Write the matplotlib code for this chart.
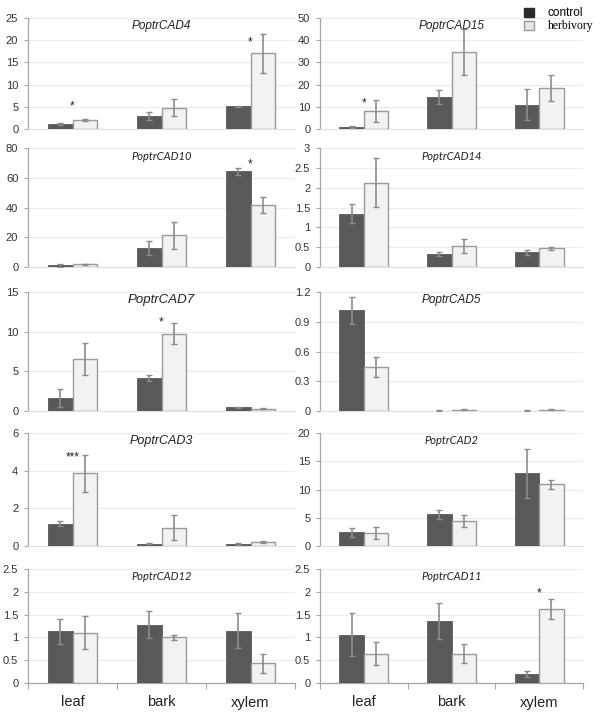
import numpy as np
import matplotlib
matplotlib.use("Agg")
import matplotlib.pyplot as plt
from matplotlib.patches import Patch

plt.rcParams['font.family'] = ['Liberation Sans', 'DejaVu Sans']

tissues = ['leaf', 'bark', 'xylem']

# panel order: row by row, left then right
genes = ['PoptrCAD4', 'PoptrCAD15', 'PoptrCAD10', 'PoptrCAD14', 'PoptrCAD7',
         'PoptrCAD5', 'PoptrCAD3', 'PoptrCAD2', 'PoptrCAD12', 'PoptrCAD11']

cad4_ctrl = [1.15, 3.0, 5.1]
cad4_ctrl_err = [0.2, 0.9, 0.1]
cad4_herb = [2.1, 4.75, 17.1]
cad4_herb_err = [0.2, 1.9, 4.4]

cad15_ctrl = [1.05, 14.3, 11.0]
cad15_ctrl_err = [0.5, 3.2, 7.0]
cad15_herb = [8.0, 34.8, 18.5]
cad15_herb_err = [5.0, 10.3, 6.0]

cad10_ctrl = [1.3, 12.8, 64.3]
cad10_ctrl_err = [1.0, 4.9, 2.3]
cad10_herb = [1.8, 21.3, 41.5]
cad10_herb_err = [0.3, 9.0, 5.5]

cad14_ctrl = [1.34, 0.33, 0.37]
cad14_ctrl_err = [0.24, 0.05, 0.06]
cad14_herb = [2.13, 0.53, 0.47]
cad14_herb_err = [0.62, 0.17, 0.03]

cad7_ctrl = [1.64, 4.16, 0.46]
cad7_ctrl_err = [1.1, 0.38, 0.1]
cad7_herb = [6.6, 9.75, 0.3]
cad7_herb_err = [2.03, 1.35, 0.05]

cad5_ctrl = [1.017, 0.005, 0.005]
cad5_ctrl_err = [0.137, 0.003, 0.003]
cad5_herb = [0.44, 0.015, 0.012]
cad5_herb_err = [0.1, 0.005, 0.005]

cad3_ctrl = [1.19, 0.12, 0.1]
cad3_ctrl_err = [0.12, 0.04, 0.04]
cad3_herb = [3.85, 0.98, 0.21]
cad3_herb_err = [0.97, 0.66, 0.07]

cad2_ctrl = [2.39, 5.6, 12.84]
cad2_ctrl_err = [0.8, 0.83, 4.3]
cad2_herb = [2.33, 4.42, 10.93]
cad2_herb_err = [1.05, 1.13, 0.8]

cad12_ctrl = [1.13, 1.28, 1.15]
cad12_ctrl_err = [0.28, 0.3, 0.38]
cad12_herb = [1.1, 1.0, 0.43]
cad12_herb_err = [0.36, 0.05, 0.2]

cad11_ctrl = [1.06, 1.36, 0.2]
cad11_ctrl_err = [0.47, 0.39, 0.07]
cad11_herb = [0.645, 0.645, 1.63]
cad11_herb_err = [0.245, 0.2, 0.22]

ctrl = [cad4_ctrl, cad15_ctrl, cad10_ctrl, cad14_ctrl, cad7_ctrl,
        cad5_ctrl, cad3_ctrl, cad2_ctrl, cad12_ctrl, cad11_ctrl]
ctrl_err = [cad4_ctrl_err, cad15_ctrl_err, cad10_ctrl_err, cad14_ctrl_err, cad7_ctrl_err,
            cad5_ctrl_err, cad3_ctrl_err, cad2_ctrl_err, cad12_ctrl_err, cad11_ctrl_err]
herb = [cad4_herb, cad15_herb, cad10_herb, cad14_herb, cad7_herb,
        cad5_herb, cad3_herb, cad2_herb, cad12_herb, cad11_herb]
herb_err = [cad4_herb_err, cad15_herb_err, cad10_herb_err, cad14_herb_err, cad7_herb_err,
            cad5_herb_err, cad3_herb_err, cad2_herb_err, cad12_herb_err, cad11_herb_err]

ymax = [25, 50, 80, 3, 15, 1.2, 6, 20, 2.5, 2.5]
ystep = [5, 10, 20, 0.5, 5, 0.3, 2, 5, 0.5, 0.5]
ylabels = [None, None, None, ['0', '0.5', '1', '1.5', '2', '2.5', '3'], None,
           ['0', '0.3', '0.6', '0.9', '1.2'], None, None,
           ['0', '0.5', '1', '1.5', '2', '2.5'], ['0', '0.5', '1', '1.5', '2', '2.5']]

# significance marks: (tissue index, height, text)
stars = [[(0, 5.1, '*'), (2, 19.5, '*')],
         [(0, 11.3, '*')],
         [(2, 68.8, '*')],
         [],
         [(1, 11.2, '*')],
         [],
         [(0, 4.72, '***')],
         [],
         [],
         [(2, 1.97, '*')]]

# title font: some panels use a Calibri-like face
title_font = ['Liberation Sans', 'Liberation Sans', 'Lato', 'Lato', 'Liberation Sans',
              'Liberation Sans', 'Liberation Sans', 'Lato', 'Lato', 'Lato']
title_size = [8.5, 8.5, 8, 8, 9.5, 8.5, 9, 8, 8, 8]

dark = '#595959'
light = '#f2f2f2'
edge = '#9a9a9a'
errc = '#8c8c8c'
axc = '#a6a6a6'

fig = plt.figure(figsize=(6, 7.2), dpi=100)

rows_top = [18, 148, 292, 433, 569]
rows_bot = [129, 267, 411, 546, 683]
cols = [(28, 295), (320, 583)]

bw = 0.28
x = np.arange(3)

for i, g in enumerate(genes):
    r, c = divmod(i, 2)
    x0, x1 = cols[c]
    ax = fig.add_axes([x0 / 600, 1 - rows_bot[r] / 720, (x1 - x0) / 600,
                       (rows_bot[r] - rows_top[r]) / 720])
    ekw = dict(ecolor=errc, elinewidth=1.2, capsize=2.5, capthick=1.0)
    ax.bar(x - bw / 2, ctrl[i], bw, color=dark, edgecolor=dark, linewidth=0.6,
           yerr=ctrl_err[i], error_kw=ekw, zorder=3)
    ax.bar(x + bw / 2, herb[i], bw, color=light, edgecolor=edge, linewidth=1.0,
           yerr=herb_err[i], error_kw=ekw, zorder=3)
    for t, h, s in stars[i]:
        ax.text(t, h, s, ha='center', va='center', fontsize=8.5, color='#222222')
    ax.set_xlim(-0.5, 2.5)
    ax.set_ylim(0, ymax[i])
    ticks = np.arange(0, ymax[i] + ystep[i] / 2, ystep[i])
    ax.set_yticks(ticks)
    if ylabels[i] is not None:
        ax.set_yticklabels(ylabels[i])
    ax.yaxis.grid(True, color='#ececec', linewidth=0.8, zorder=0)
    ax.set_axisbelow(True)
    ax.tick_params(axis='y', labelsize=8, length=3, width=0.8, color=axc,
                   pad=4, labelcolor='#333333')
    for sp in ['top', 'right']:
        ax.spines[sp].set_visible(False)
    ax.spines['left'].set_color(axc)
    ax.spines['left'].set_linewidth(0.9)
    if r == 4:
        ax.spines['bottom'].set_color(axc)
        ax.spines['bottom'].set_linewidth(0.9)
        ax.set_xticks([-0.5, 0.5, 1.5, 2.5])
        ax.set_xticklabels([])
        ax.set_xticks(x, minor=True)
        ax.set_xticklabels(tissues, minor=True)
        ax.tick_params(axis='x', which='major', length=4, width=0.8, color=axc, direction='out')
        ax.tick_params(axis='x', which='minor', length=0, labelsize=10.5, pad=9,
                       labelcolor='#222222')
    else:
        ax.spines['bottom'].set_color('#e0e0e0')
        ax.spines['bottom'].set_linewidth(0.8)
        ax.set_xticks([])
    ax.text(0.5, 0.93, g, transform=ax.transAxes, ha='center', va='center',
            style='italic', fontsize=title_size[i], family=title_font[i],
            color='#222222')

# legend in the top right corner
handles = [Patch(facecolor='#2b2b2b', edgecolor='#2b2b2b'),
           Patch(facecolor='#e6e6e6', edgecolor='#999999')]
leg = fig.legend(handles, ['control', 'herbivory'], loc='upper left',
                 bbox_to_anchor=(516 / 600, 1 + 1 / 720), frameon=False,
                 fontsize=8.5, handlelength=0.8, handleheight=0.8,
                 handletextpad=1.2, labelspacing=0.1, borderpad=0.2)
leg.get_texts()[1].set_family('Liberation Serif')

fig.savefig('out.png', dpi=100, facecolor='white')
